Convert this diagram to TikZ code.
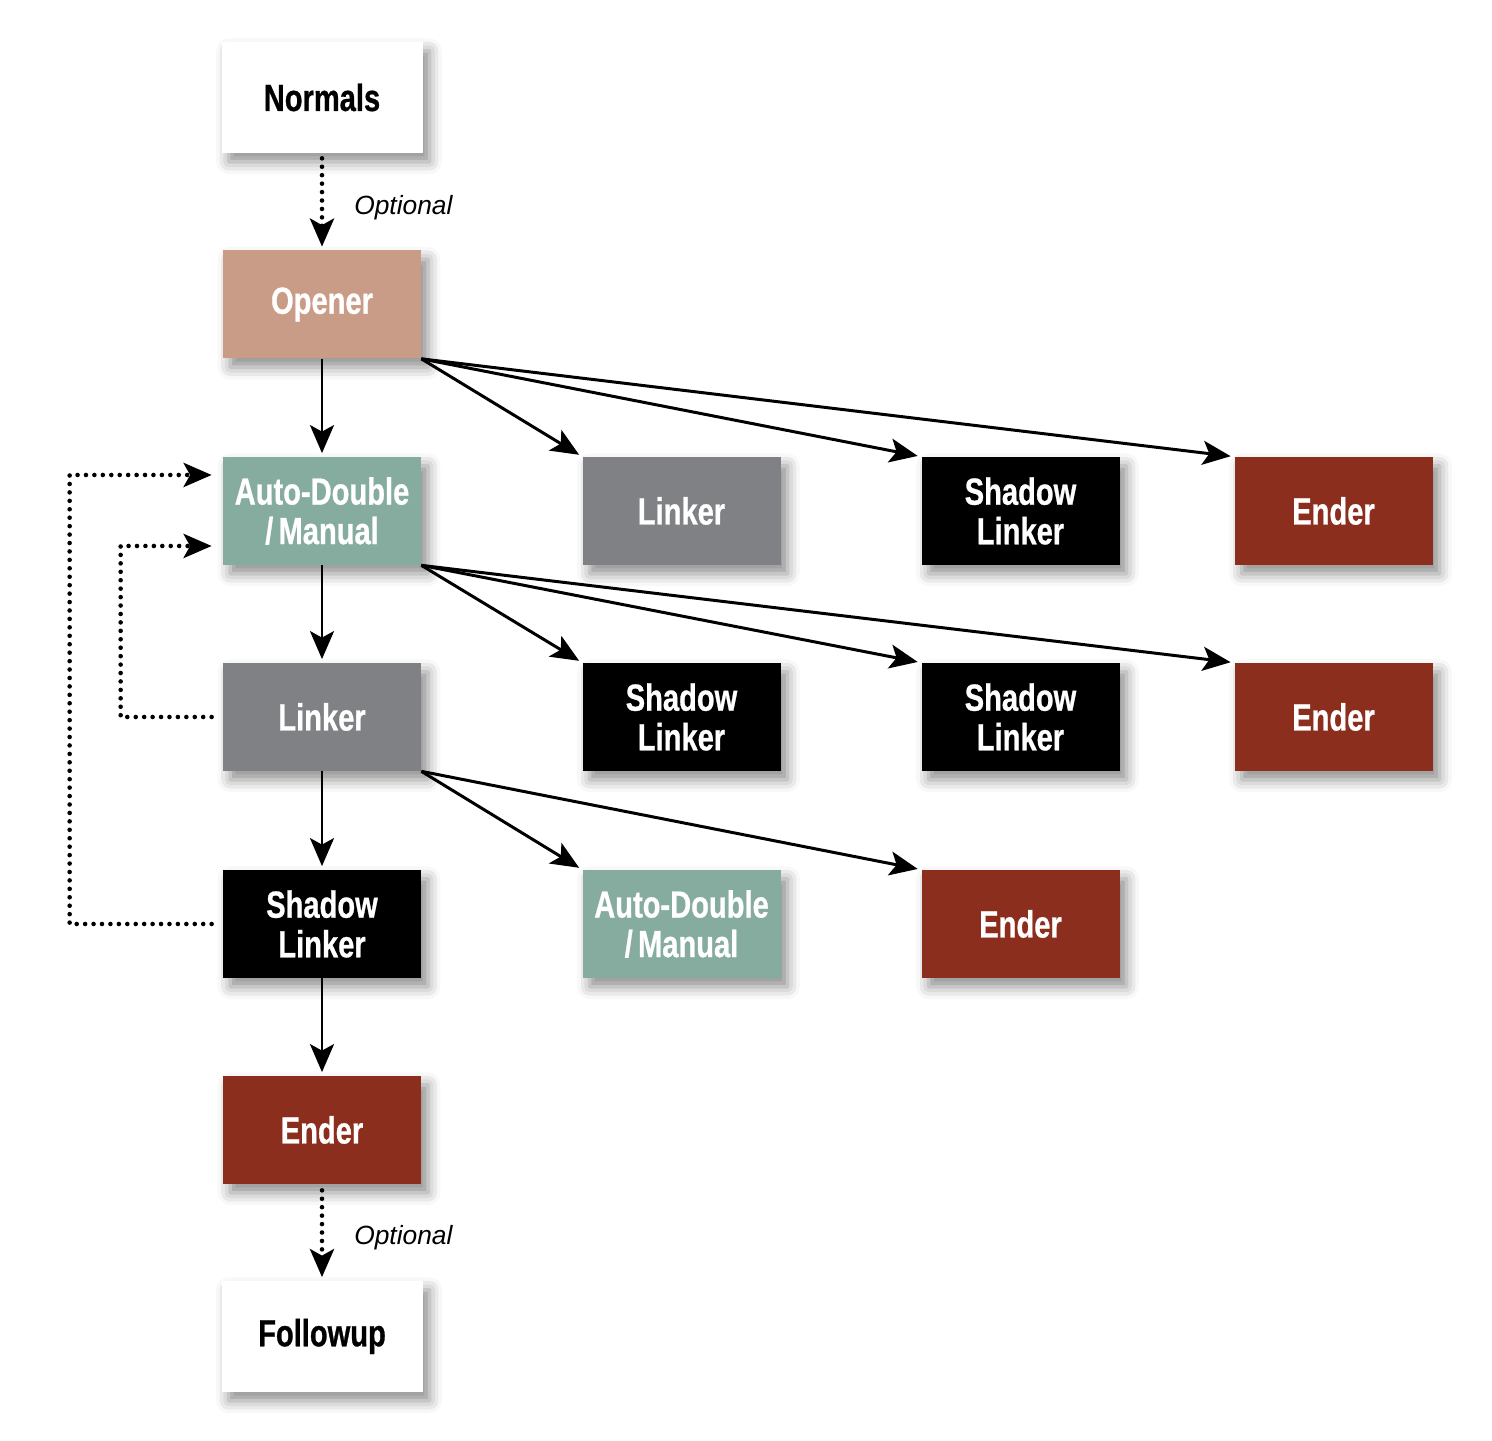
\documentclass[tikz,border=0pt]{standalone}
\usepackage{fontspec}
\setmainfont{Liberation Sans}
\newfontfamily\boxfont[FakeStretch=0.77, FakeBold=0.7]{Liberation Sans}
\usetikzlibrary{arrows.meta,shadows.blur}

\begin{document}
\begin{tikzpicture}[
   box/.style={rectangle, minimum width=3.96cm, minimum height=2.16cm, inner sep=0pt,
      align=center, text=white, font=\boxfont\bfseries\fontsize{21.5}{22.5}\selectfont,
      blur shadow={shadow xshift=4pt, shadow yshift=-5pt, shadow blur radius=7pt, shadow opacity=45}},
   plain/.style={box, fill=white, text=black, minimum width=4.02cm, minimum height=2.22cm},
   openbox/.style={box, fill=openc},
   autobox/.style={box, fill=autoc},
   linkbox/.style={box, fill=linkc},
   shadowbox/.style={box, fill=black},
   endbox/.style={box, fill=endc},
   arr/.style={-{Stealth[length=0.56cm,width=0.48cm,inset=0.13cm]}, line width=1.7pt, shorten >=2pt},
   dots/.style={arr, line width=2.6pt, dash pattern=on 0pt off 4.8pt, line cap=round},
   opt/.style={font=\itshape\fontsize{15}{18}\selectfont, anchor=west, inner sep=0pt, xshift=0.6cm, yshift=-0.11cm}]

\definecolor{openc}{HTML}{C99C88}
\definecolor{autoc}{HTML}{86AC9F}
\definecolor{linkc}{HTML}{808185}
\definecolor{endc}{HTML}{8C2E1E}

\useasboundingbox (0,0) rectangle (29.84,28.82);

\node[plain] (normals) at (6.44,26.87) {Normals};
\node[openbox] (opener) at (6.44,22.73) {Opener};
\node[autobox] (ad1) at (6.44,18.6) {Auto-Double\\/\kern3pt Manual};
\node[linkbox] (lk1) at (6.44,14.48) {Linker};
\node[shadowbox] (sl1) at (6.44,10.34) {Shadow\\Linker};
\node[endbox] (end1) at (6.44,6.22) {Ender};
\node[plain] (followup) at (6.44,2.09) {Followup};

\node[linkbox] (lk2) at (13.63,18.6) {Linker};
\node[shadowbox] (sl2) at (20.41,18.6) {Shadow\\Linker};
\node[endbox] (end2) at (26.67,18.6) {Ender};

\node[shadowbox] (sl3) at (13.63,14.48) {Shadow\\Linker};
\node[shadowbox] (sl4) at (20.41,14.48) {Shadow\\Linker};
\node[endbox] (end3) at (26.67,14.48) {Ender};

\node[autobox] (ad2) at (13.63,10.34) {Auto-Double\\/\kern3pt Manual};
\node[endbox] (end4) at (20.41,10.34) {Ender};

\draw[dots, shorten <=0.1cm] (normals) -- node[opt] {Optional} (opener);
\draw[arr] (opener) -- (ad1);
\draw[arr] (ad1) -- (lk1);
\draw[arr] (lk1) -- (sl1);
\draw[arr] (sl1) -- (end1);
\draw[dots, shorten <=0.12cm] (end1) -- node[opt] {Optional} (followup);

\draw[arr] (opener.south east) -- (lk2.north west);
\draw[arr] (opener.south east) -- (sl2.north west);
\draw[arr] (opener.south east) -- (end2.north west);

\draw[arr] (ad1.south east) -- (sl3.north west);
\draw[arr] (ad1.south east) -- (sl4.north west);
\draw[arr] (ad1.south east) -- (end3.north west);

\draw[arr] (lk1.south east) -- (ad2.north west);
\draw[arr] (lk1.south east) -- (end4.north west);

\draw[dots, shorten <=0.22cm, shorten >=0.22cm] (lk1.west) -- ++(-2.04,0) |- ([yshift=-0.7cm]ad1.west);
\draw[dots, shorten <=0.22cm, shorten >=0.22cm] (sl1.west) -- ++(-3.06,0) |- ([yshift=0.72cm]ad1.west);

\end{tikzpicture}
\end{document}
